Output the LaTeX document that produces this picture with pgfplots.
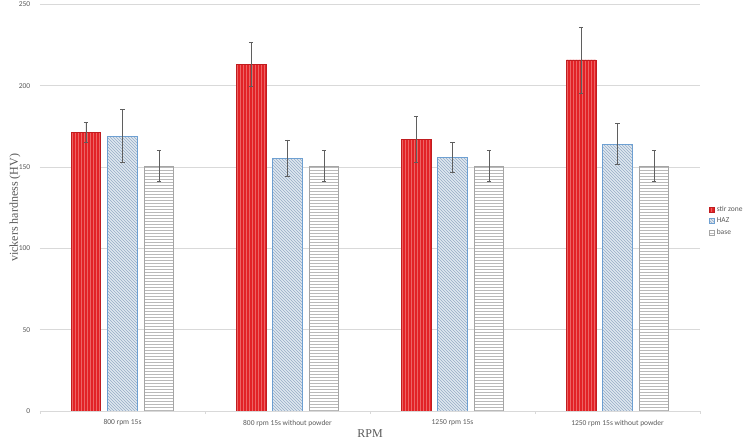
\documentclass[border=0pt]{standalone}
\usepackage{fontspec}
\setmainfont{Liberation Serif}
\newfontfamily\calibri{Carlito}
\usepackage{pgfplots}
\pgfplotsset{compat=1.18}
\usetikzlibrary{patterns}
\definecolor{stirfill}{RGB}{226,34,38}
\definecolor{stirline}{RGB}{236,100,100}
\definecolor{hazfill}{RGB}{224,232,240}
\definecolor{hazline}{RGB}{150,172,198}
\definecolor{hazdraw}{RGB}{110,160,210}
\definecolor{basefill}{RGB}{255,255,255}
\definecolor{baseline}{RGB}{185,185,185}
\definecolor{basedraw}{RGB}{165,165,165}
\definecolor{txtgray}{RGB}{89,89,89}
\definecolor{gridgray}{RGB}{217,217,217}
\definecolor{errgray}{RGB}{95,95,95}
\begin{document}
\begin{tikzpicture}
\path[use as bounding box] (-40pt,-30pt) rectangle (710pt,411pt);
\begin{axis}[
  scale only axis,
  width=660pt, height=406.5pt,
  xmin=-0.5, xmax=3.5, ymin=0, ymax=250,
  ybar, bar width=29.5pt, bar shift auto=false,
  xtick={0,1,2,3},
  xticklabels={800 rpm 15s, 800 rpm 15s without powder, 1250 rpm 15s, 1250 rpm 15s without powder},
  minor xtick={-0.5,0.5,1.5,2.5,3.5},
  ytick={0,50,100,150,200,250},
  ymajorgrids, grid style={gridgray, line width=0.8pt},
  axis x line*=bottom, axis y line*=left,
  y axis line style={draw=none},
  x axis line style={gridgray, line width=0.8pt},
  ytick style={draw=none},
  major x tick style={draw=none},
  minor x tick style={gridgray, line width=0.8pt},
  minor tick length=3pt,
  tick align=outside,
  /pgf/number format/assume math mode=true,
  tick label style={font=\calibri\fontsize{7.5}{9}\selectfont, text=txtgray},
  yticklabel style={xshift=-2pt},
  xticklabel style={yshift=-1pt},
  xlabel={RPM},
  ylabel={vickers hardness (HV)},
  xlabel style={font=\fontsize{12}{14}\selectfont, text=txtgray, at={(axis description cs:0.5,-0.0566)}, anchor=center},
  ylabel style={font=\fontsize{12}{14}\selectfont, text=txtgray, at={(axis description cs:-0.0379,0.5)}, anchor=center},
  legend style={at={(1,0.467)}, anchor=west, xshift=8pt, draw=none, fill=none,
    font=\calibri\fontsize{7.5}{9}\selectfont, text=txtgray, row sep=1pt,
    inner sep=1pt},
  legend cell align=left,
  legend image code/.code={\draw[#1] (0pt,-2.5pt) rectangle (5pt,2.5pt);},
  error bars/error bar style={errgray, line width=0.8pt},
  error bars/error mark options={rotate=90, mark size=2.2pt, line width=0.8pt, errgray},
]
\addplot[bar shift=-36.5pt, fill=stirfill, draw=stirfill!85!black, line width=0.5pt,
  postaction={pattern=vertical lines, pattern color=stirline},
  error bars/.cd, y dir=both, y explicit]
  coordinates {(0,171.5) +- (0,6.2) (1,213.2) +- (0,13.4) (2,167.1) +- (0,14.0) (3,215.9) +- (0,20.3)};
\addplot[bar shift=0pt, fill=hazfill, draw=hazdraw, line width=0.6pt,
  postaction={pattern=north west lines, pattern color=hazline},
  error bars/.cd, y dir=both, y explicit]
  coordinates {(0,169.1) +- (0,16.5) (1,155.4) +- (0,11.3) (2,156.0) +- (0,9.0) (3,164.2) +- (0,12.4)};
\addplot[bar shift=36.5pt, fill=basefill, draw=basedraw, line width=0.6pt,
  postaction={pattern=horizontal lines, pattern color=baseline},
  error bars/.cd, y dir=both, y explicit]
  coordinates {(0,150.7) +- (0,9.8) (1,150.7) +- (0,9.8) (2,150.7) +- (0,9.8) (3,150.7) +- (0,9.8)};
\legend{stir zone, HAZ, base}
\end{axis}
\end{tikzpicture}
\end{document}
